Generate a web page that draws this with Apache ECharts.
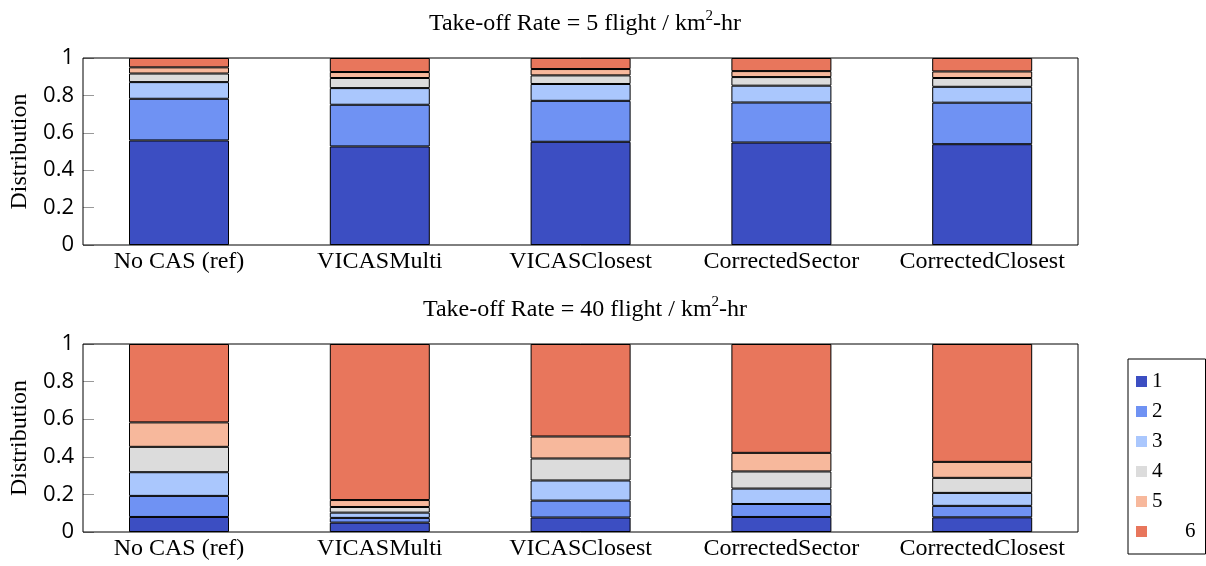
<!DOCTYPE html>
<html>
<head>
<meta charset="utf-8">
<script src="https://cdn.jsdelivr.net/npm/echarts@6/dist/echarts.min.js"></script>
<style>html,body{margin:0;padding:0;background:#fff;}#c{width:1206px;height:566px;}</style>
</head>
<body>
<div id="c"></div>
<script>
var categories = ['No CAS (ref)', 'VICASMulti', 'VICASClosest', 'CorrectedSector', 'CorrectedClosest'];
var seriesNames = ['1', '2', '3', '4', '5', '6'];
var titleTop = 'Take-off Rate = 5 flight / km';
var titleBottom = 'Take-off Rate = 40 flight / km';

// Take-off rate 5 (top panel), one array per bin
var rate5_1 = [0.559, 0.527, 0.552, 0.548, 0.539];
var rate5_2 = [0.223, 0.223, 0.219, 0.214, 0.222];
var rate5_3 = [0.089, 0.089, 0.090, 0.090, 0.085];
var rate5_4 = [0.046, 0.054, 0.046, 0.046, 0.047];
var rate5_5 = [0.033, 0.032, 0.034, 0.032, 0.035];
var rate5_6 = [0.050, 0.075, 0.059, 0.070, 0.072];

// Take-off rate 40 (bottom panel)
var rate40_1 = [0.080, 0.050, 0.077, 0.080, 0.078];
var rate40_2 = [0.112, 0.025, 0.090, 0.069, 0.061];
var rate40_3 = [0.126, 0.028, 0.107, 0.082, 0.069];
var rate40_4 = [0.135, 0.030, 0.117, 0.091, 0.080];
var rate40_5 = [0.130, 0.037, 0.117, 0.099, 0.085];
var rate40_6 = [0.417, 0.830, 0.492, 0.579, 0.627];

var colors = ['#3c4ec2', '#6f92f3', '#aac7fd', '#dcdcdc', '#f7b89c', '#e8765c'];

var topPanel = [rate5_1, rate5_2, rate5_3, rate5_4, rate5_5, rate5_6];
var botPanel = [rate40_1, rate40_2, rate40_3, rate40_4, rate40_5, rate40_6];

var serif = '"Liberation Serif", "Times New Roman", serif';
var sans = '"Open Sans", "Noto Sans", sans-serif';

// Grids 0,1: bars on category axes. Grids 2,3: frames + y-axis ticks/labels.
var grids = [
  {left: 78.6, top: 58, width: 1004, height: 187, show: false},
  {left: 78.6, top: 344, width: 1004, height: 188, show: false},
  {left: 83, top: 58, width: 995, height: 187, show: true, borderColor: '#000', borderWidth: 1, backgroundColor: 'transparent', z: 5},
  {left: 83, top: 344, width: 995, height: 188, show: true, borderColor: '#000', borderWidth: 1, backgroundColor: 'transparent', z: 5}
];

function catAxis(idx) {
  return {
    type: 'category', gridIndex: idx, data: categories, boundaryGap: true,
    axisLine: {show: false}, axisTick: {show: false}, splitLine: {show: false},
    axisLabel: {fontFamily: serif, fontSize: 24, color: '#000', margin: 5, interval: 0}
  };
}
function dummyX(idx) {
  return {type: 'value', gridIndex: idx, min: 0, max: 1, show: false};
}
function hiddenY(idx) {
  return {type: 'value', gridIndex: idx, min: 0, max: 1, show: false};
}
function frameY(idx) {
  return {
    type: 'value', gridIndex: idx, min: 0, max: 1, interval: 0.2,
    name: 'Distribution', nameLocation: 'middle', nameRotate: 90, nameGap: 50,
    nameTextStyle: {fontFamily: serif, fontSize: 24, color: '#000'},
    axisLine: {show: false, onZero: false},
    axisTick: {show: true, inside: true, length: 11, lineStyle: {color: '#999', width: 1}},
    splitLine: {show: false},
    axisLabel: {fontFamily: sans, fontSize: 22, color: '#000', margin: 9}
  };
}

var series = [];
function addSeries(arr, gi, stack) {
  arr.forEach(function (vals, i) {
    series.push({
      type: 'bar', name: seriesNames[i], xAxisIndex: gi, yAxisIndex: gi, stack: stack,
      barWidth: 100,
      itemStyle: {color: colors[i], borderColor: '#000', borderWidth: 1},
      data: vals
    });
  });
}
addSeries(topPanel, 0, 'top');
addSeries(botPanel, 1, 'bot');

var titleRich = {
  a: {fontFamily: serif, fontSize: 24, fontWeight: 'normal', color: '#000'},
  s: {fontFamily: serif, fontSize: 15, fontWeight: 'normal', color: '#000', padding: [0, 0, 15, 0]}
};

var option = {
  backgroundColor: '#fff',
  animation: false,
  title: [
    {text: '{a|' + titleTop + '}{s|2}{a|-hr}', left: 580, top: 4, textAlign: 'center', textStyle: {fontWeight: 'normal', rich: titleRich}},
    {text: '{a|' + titleBottom + '}{s|2}{a|-hr}', left: 580, top: 290, textAlign: 'center', textStyle: {fontWeight: 'normal', rich: titleRich}}
  ],
  grid: grids,
  xAxis: [catAxis(0), catAxis(1), dummyX(2), dummyX(3)],
  yAxis: [hiddenY(0), hiddenY(1), frameY(2), frameY(3)],
  legend: {
    orient: 'vertical', left: 1128, top: 359,
    data: seriesNames,
    itemWidth: 11, itemHeight: 11, itemGap: 9,
    padding: [12, 10, 12, 8],
    borderColor: '#000', borderWidth: 1, backgroundColor: '#fff',
    icon: 'rect',
    itemStyle: {borderWidth: 0},
    formatter: function (n) { return n === '6' ? '{p|6}' : '{t|' + n + '}'; },
    textStyle: {
      fontFamily: serif, fontSize: 21, color: '#000', lineHeight: 20,
      rich: {
        t: {fontFamily: serif, fontSize: 21, color: '#000', lineHeight: 20},
        p: {fontFamily: serif, fontSize: 21, color: '#000', lineHeight: 20, padding: [0, 0, 0, 33]}
      }
    }
  },
  series: series
};

var chart = echarts.init(document.getElementById('c'), null, {renderer: 'canvas'});
chart.setOption(option);
</script>
</body>
</html>
